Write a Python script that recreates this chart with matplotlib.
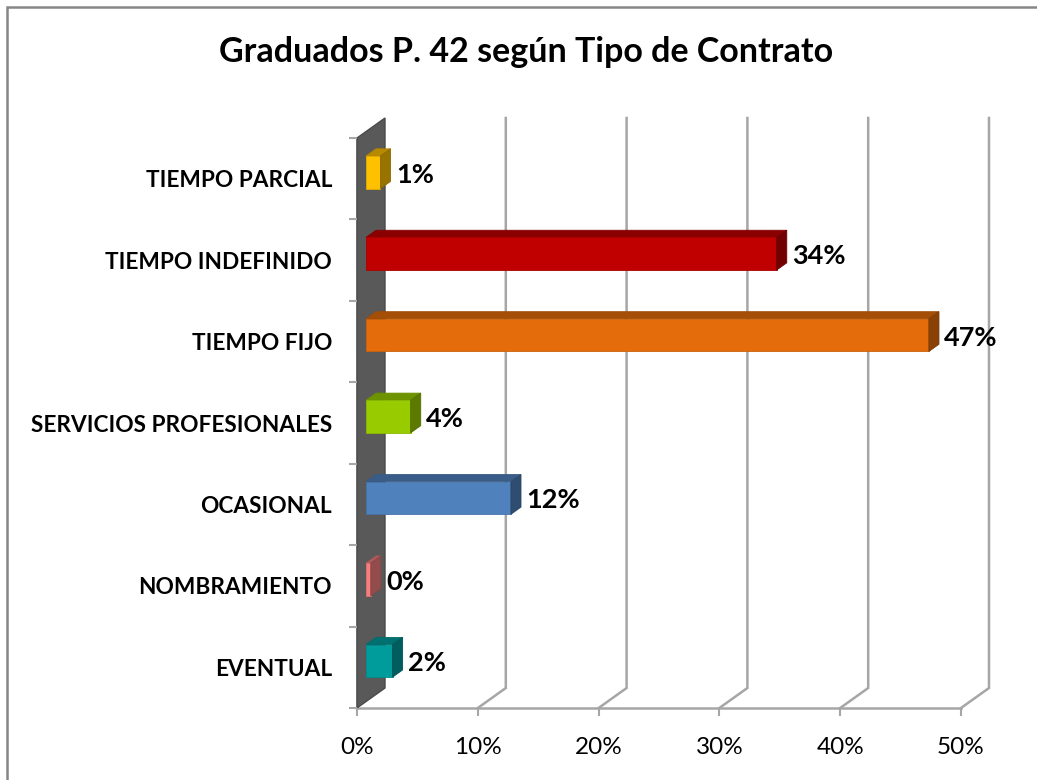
import matplotlib
matplotlib.use("Agg")
import matplotlib.pyplot as plt
from matplotlib.patches import Polygon, Rectangle
from matplotlib.ticker import FuncFormatter, FixedLocator
from matplotlib.colors import to_rgb

# data (bottom to top, as drawn)
categorias = ["EVENTUAL", "NOMBRAMIENTO", "OCASIONAL", "SERVICIOS PROFESIONALES",
              "TIEMPO FIJO", "TIEMPO INDEFINIDO", "TIEMPO PARCIAL"]
porcentajes = [2.2, 0.4, 12.0, 3.7, 46.6, 34.0, 1.2]
colores = ["#009C9C", "#F47F7F", "#4F81BD", "#99CC00", "#E46C0A", "#C00000", "#FFC000"]
ticks_x = [0, 10, 20, 30, 40, 50]

plt.rcParams['font.family'] = ['Lato', 'DejaVu Sans']

W, H = 1037, 780
fig = plt.figure(figsize=(W / 100, H / 100), dpi=100)

# front plane of the 3d box in pixels
x0p, x1p, y0p, y1p = 357, 961, 708, 138
ax = fig.add_axes([x0p / W, (H - y0p) / H, (x1p - x0p) / W, (y0p - y1p) / H])
ax.set_xlim(0, 50)
ax.set_ylim(0, len(categorias))

px_x = (x1p - x0p) / 50.0
px_y = (y0p - y1p) / len(categorias)
Dx = 28 / px_x      # depth offset
Dy = 20 / px_y

grid_c = "#A6A6A6"
n = len(categorias)

# side wall
ax.add_patch(Polygon([(0, 0), (Dx, Dy), (Dx, n + Dy), (0, n)], closed=True,
                     facecolor="#595959", edgecolor="#4A4A4A", lw=1, zorder=1, clip_on=False))

# gridlines on back wall and floor
for t in ticks_x[1:]:
    ax.plot([t, t + Dx, t + Dx], [0, Dy, n + Dy], color=grid_c, lw=1.8,
            zorder=1, clip_on=False, solid_joinstyle="miter")

def shade(c, f):
    r, g, b = to_rgb(c)
    return (r * f, g * f, b * f)

h = 0.4
dpos = 0.32
dep = 0.36
for i, (v, c) in enumerate(zip(porcentajes, colores)):
    xs = dpos * Dx
    ys = i + 0.3 + dpos * Dy
    ddx, ddy = dep * Dx, dep * Dy
    front = Rectangle((xs, ys), v, h, facecolor=c, edgecolor=shade(c, 0.9), lw=0.6, zorder=3)
    top = Polygon([(xs, ys + h), (xs + v, ys + h), (xs + v + ddx, ys + h + ddy), (xs + ddx, ys + h + ddy)],
                  closed=True, facecolor=shade(c, 0.72), edgecolor=shade(c, 0.7), lw=0.6, zorder=3)
    side = Polygon([(xs + v, ys), (xs + v + ddx, ys + ddy), (xs + v + ddx, ys + h + ddy), (xs + v, ys + h)],
                   closed=True, facecolor=shade(c, 0.6), edgecolor=shade(c, 0.55), lw=0.6, zorder=3)
    for p in (top, front, side):
        p.set_clip_on(False)
        ax.add_patch(p)
    ax.text(xs + v + ddx + 0.45, ys + h / 2 - 0.03, f"{round(v):.0f}%", fontsize=19.5,
            fontweight="bold", ha="left", va="center", color="black", zorder=5)

# axes styling
for s in ("top", "right"):
    ax.spines[s].set_visible(False)
for s in ("left", "bottom"):
    ax.spines[s].set_color(grid_c)
    ax.spines[s].set_linewidth(1.8)
    ax.spines[s].set_zorder(0.5)

ax.set_xticks(ticks_x)
ax.xaxis.set_major_formatter(FuncFormatter(lambda x, p: f"{x:.0f}%"))
ax.tick_params(axis="x", direction="out", length=6, width=1.5, color=grid_c,
               labelsize=17.5, pad=15)

ax.set_yticks([i + 0.5 for i in range(n)])
ax.set_yticklabels(categorias, fontsize=16.3, fontweight="bold")
ax.tick_params(axis="y", which="major", length=0, pad=18)
ax.yaxis.set_minor_locator(FixedLocator(list(range(n + 1))))
ax.tick_params(axis="y", which="minor", direction="out", length=6, width=1.5, color=grid_c)
ax.set_facecolor("none")

fig.text(526 / W, 1 - 52 / H, "Graduados P. 42 según Tipo de Contrato", fontsize=24.5,
         fontweight="bold", ha="center", va="center")

# chart border
fig.patches.append(Rectangle((7 / W, -0.1), 1.2, 1 - 7 / H + 0.1, transform=fig.transFigure,
                             fill=False, edgecolor="#868686", lw=1.8))

fig.savefig("out.png", dpi=100)
